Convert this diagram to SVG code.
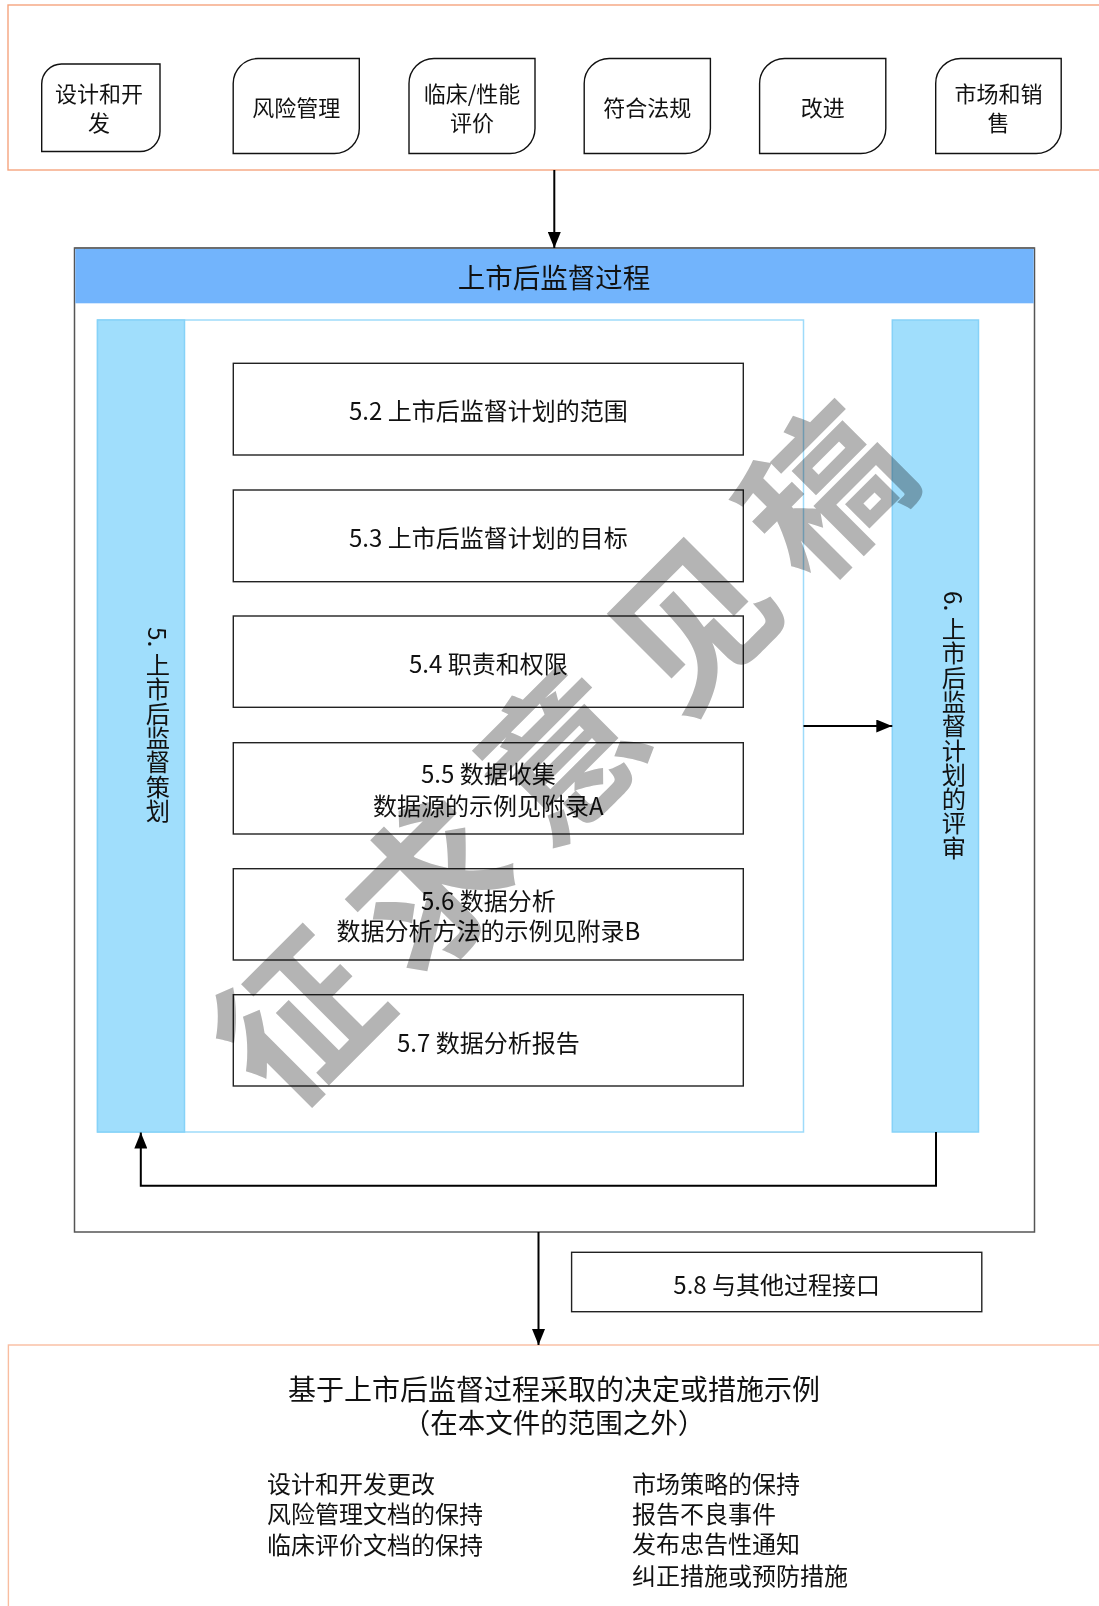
<svg xmlns="http://www.w3.org/2000/svg" width="1099" height="1606" viewBox="0 0 1099 1606">
<style>
  text { font-family: "Noto Sans CJK SC", "Noto Sans", sans-serif; fill: #111; }
  .mid { text-anchor: middle; dominant-baseline: central; }
  .leaf { fill: #fff; stroke: #111; stroke-width: 1.4; }
  .box { fill: #fff; stroke: #222; stroke-width: 1.4; }
  .conn { fill: none; stroke: #000; stroke-width: 2; }
  .t22 { font-size: 22px; }
  .t24 { font-size: 24px; }
  .vert { font-size: 24.3px; writing-mode: vertical-rl; text-orientation: mixed; }
  .wm { fill: #B4B4B4; mix-blend-mode: multiply; font-weight: 700; }
</style>
<defs>
  <marker id="ah" viewBox="0 0 16 13" refX="16" refY="6.5" markerWidth="16" markerHeight="13" markerUnits="userSpaceOnUse" orient="auto">
    <path d="M0,0 L16,6.5 L0,13 Z" fill="#000"/>
  </marker>
</defs>

<rect width="1099" height="1606" fill="#fff"/>

<!-- top region -->
<g id="top-region">
  <rect x="8" y="5" width="1100" height="165" fill="#fff" stroke="#F6A47E" stroke-width="1.4"/>
</g>

<g id="node-design">
  <path class="leaf" d="M61.5,64 H160 V131.5 A20,20 0 0 1 140,151.5 H41.7 V84 A20,20 0 0 1 61.5,64 Z"/>
  <text class="mid t22" x="99" y="92">设计和开</text>
  <text class="mid t22" x="99" y="121">发</text>
</g>
<g id="node-risk">
  <path class="leaf" d="M258,58.5 H359.3 V128.5 A25,25 0 0 1 334.3,153.5 H233.2 V83.5 A25,25 0 0 1 258,58.5 Z"/>
  <text class="mid t22" x="296.3" y="105.5">风险管理</text>
</g>
<g id="node-clinical">
  <path class="leaf" d="M434,58.5 H535 V128.5 A25,25 0 0 1 510,153.5 H409 V83.5 A25,25 0 0 1 434,58.5 Z"/>
  <text class="mid t22" x="472" y="92">临床/性能</text>
  <text class="mid t22" x="472" y="121">评价</text>
</g>
<g id="node-regulatory">
  <path class="leaf" d="M609.2,58.5 H710.4 V128.5 A25,25 0 0 1 685.4,153.5 H584.2 V83.5 A25,25 0 0 1 609.2,58.5 Z"/>
  <text class="mid t22" x="647.3" y="105.5">符合法规</text>
</g>
<g id="node-improve">
  <path class="leaf" d="M784.6,58.5 H885.8 V128.5 A25,25 0 0 1 860.8,153.5 H759.6 V83.5 A25,25 0 0 1 784.6,58.5 Z"/>
  <text class="mid t22" x="822.7" y="105.5">改进</text>
</g>
<g id="node-market">
  <path class="leaf" d="M960.7,58.5 H1061.2 V128.5 A25,25 0 0 1 1036.2,153.5 H935.7 V83.5 A25,25 0 0 1 960.7,58.5 Z"/>
  <text class="mid t22" x="998.5" y="92">市场和销</text>
  <text class="mid t22" x="998.5" y="121">售</text>
</g>

<!-- main container -->
<g id="pms-process">
  <rect x="74.5" y="248" width="960" height="984" fill="#fff" stroke="#555" stroke-width="1.5"/>
  <rect x="75.3" y="248.8" width="958.4" height="54.5" fill="#72B4FC"/>
  <line x1="74.5" y1="248" x2="1034.5" y2="248" stroke="#666" stroke-width="1.5"/>
  <text class="mid" x="554" y="276" font-size="27.5">上市后监督过程</text>
</g>

<g id="lane-planning">
  <rect x="97.5" y="320" width="706" height="812" fill="#fff" stroke="#9EDBFA" stroke-width="1.5"/>
  <rect x="97.5" y="320" width="87" height="812" fill="#A0DEFC" stroke="#86D2F8" stroke-width="1.5"/>
  <text class="vert" x="158" y="627">5. 上市后监督策划</text>
</g>

<g id="lane-review">
  <rect x="892.3" y="320" width="86.2" height="812" fill="#A0DEFC" stroke="#86D2F8" stroke-width="1.5"/>
  <text class="vert" x="954" y="591">6. 上市后监督计划的评审</text>
</g>

<g id="node-5-2">
  <rect class="box" x="233.3" y="363.3" width="510" height="91.7"/>
  <text class="mid t24" x="488.3" y="409">5.2 上市后监督计划的范围</text>
</g>
<g id="node-5-3">
  <rect class="box" x="233.3" y="490" width="510" height="91.7"/>
  <text class="mid t24" x="488.3" y="536">5.3 上市后监督计划的目标</text>
</g>
<g id="node-5-4">
  <rect class="box" x="233.3" y="616" width="510" height="91.3"/>
  <text class="mid t24" x="488.3" y="662">5.4 职责和权限</text>
</g>
<g id="node-5-5">
  <rect class="box" x="233.3" y="742.7" width="510" height="91.3"/>
  <text class="mid t24" x="488.3" y="772">5.5 数据收集</text>
  <text class="mid t24" x="488.3" y="804">数据源的示例见附录A</text>
</g>
<g id="node-5-6">
  <rect class="box" x="233.3" y="868.7" width="510" height="91.3"/>
  <text class="mid t24" x="488.3" y="899.5">5.6 数据分析</text>
  <text class="mid t24" x="488.3" y="929.5">数据分析方法的示例见附录B</text>
</g>
<g id="node-5-7">
  <rect class="box" x="233.3" y="994.7" width="510" height="91.3"/>
  <text class="mid t24" x="488.3" y="1041">5.7 数据分析报告</text>
</g>

<g id="node-5-8">
  <rect class="box" x="571.6" y="1252.3" width="410.2" height="59.4"/>
  <text class="mid t24" x="776.7" y="1283">5.8 与其他过程接口</text>
</g>

<!-- bottom region -->
<g id="outcomes">
  <rect x="8.4" y="1345" width="1100" height="300" fill="#fff" stroke="#F9BDA0" stroke-width="1.4"/>
  <text class="mid" x="554" y="1388" font-size="28">基于上市后监督过程采取的决定或措施示例</text>
  <text class="mid" x="554" y="1421" font-size="27.5">（在本文件的范围之外）</text>
  <text class="t24" x="267" y="1482" dominant-baseline="central">设计和开发更改</text>
  <text class="t24" x="267" y="1512" dominant-baseline="central">风险管理文档的保持</text>
  <text class="t24" x="267" y="1543" dominant-baseline="central">临床评价文档的保持</text>
  <text class="t24" x="632" y="1482" dominant-baseline="central">市场策略的保持</text>
  <text class="t24" x="632" y="1512" dominant-baseline="central">报告不良事件</text>
  <text class="t24" x="632" y="1542" dominant-baseline="central">发布忠告性通知</text>
  <text class="t24" x="632" y="1574" dominant-baseline="central">纠正措施或预防措施</text>
</g>

<!-- connectors -->
<g id="connectors">
  <path class="conn" d="M554.3,170 V248" marker-end="url(#ah)"/>
  <path class="conn" d="M803.5,726 H892.3" marker-end="url(#ah)"/>
  <path class="conn" d="M936,1132 V1185.7 H140.8 V1132.5" marker-end="url(#ah)"/>
  <path class="conn" d="M538.5,1232 V1345" marker-end="url(#ah)"/>
</g>

<!-- watermark -->
<text class="wm" x="565" y="738" text-anchor="middle" dominant-baseline="central" font-size="158" letter-spacing="28" transform="rotate(-45 565 738)">征求意见稿</text>
</svg>
